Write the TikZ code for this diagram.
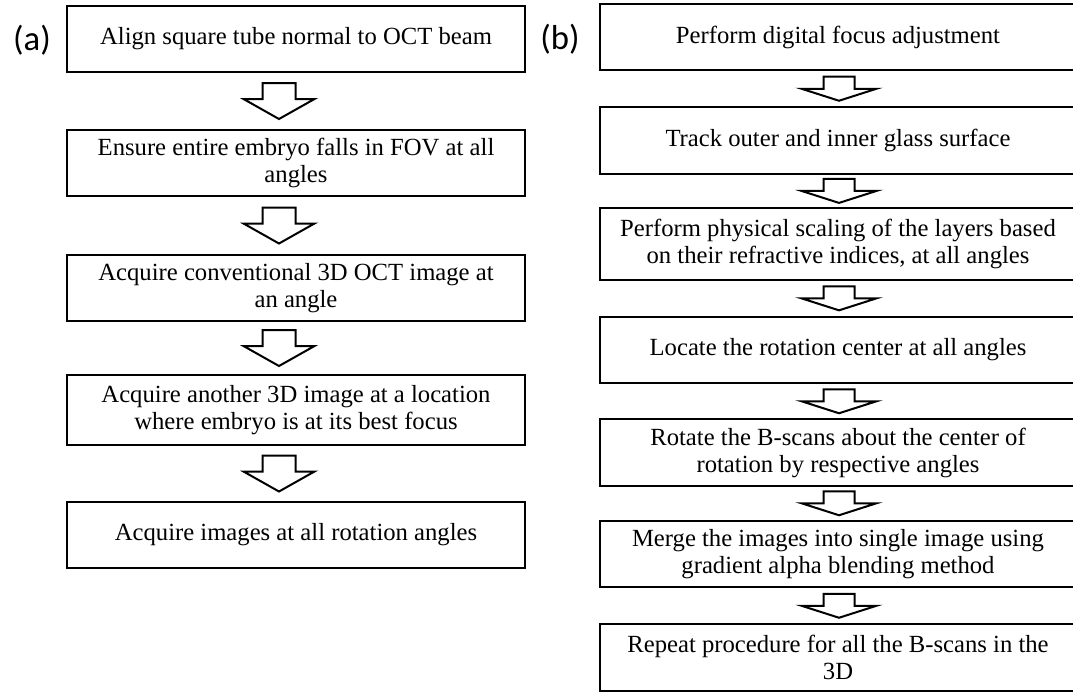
\documentclass[tikz,border=0pt]{standalone}
\usepackage{fontspec}
\setmainfont{Liberation Serif}
\newfontfamily\panelfont{Carlito}
\usetikzlibrary{calc}

\begin{document}
\begin{tikzpicture}[x=0.75pt,y=-0.75pt]
        \tikzstyle{step box}=[rectangle,draw=black,line width=1.5pt,align=center,inner sep=0pt,
                              font=\fontsize{18.5}{20.25}\selectfont]
        \tikzstyle{left box}=[step box,minimum width=343.5pt,minimum height=50pt]
        \tikzstyle{right box}=[step box,minimum width=357pt,minimum height=50pt]
        \tikzstyle{block arrow}=[draw=black,fill=white,line width=1.5pt,line join=miter]
        \tikzstyle{panel}=[font=\panelfont\fontsize{26}{30}\selectfont]
        \useasboundingbox (0,0) rectangle (1073,692);
       % acquisition steps
       \begin{scope}
         \node [panel] (la) at (32,40) {(a)};
         \node [left box] (a1) at (296,39) {Align square tube normal to OCT beam};
         \node [left box] (a2) at (296,163) {Ensure entire embryo falls in FOV at all\\angles};
         \node [left box] (a3) at (296,288) {Acquire conventional 3D OCT image at\\an angle};
         \node [left box,minimum height=53pt] (a4) at (296,410) {Acquire another 3D image at a location\\where embryo is at its best focus};
         \node [left box] (a5) at (296,535) {Acquire images at all rotation angles};
         \foreach \cur/\nxt in {a1/a2,a2/a3,a3/a4,a4/a5}
           \draw [block arrow,shift={($(\cur.south)!0.5!(\nxt.north)+(-17,0)$)}]
             (-16.5,-18) -- (16.5,-18) -- (16.5,-2) -- (35.5,-2) -- (0,18)
             -- (-35.5,-2) -- (-16.5,-2) -- cycle;
        \end{scope}
       % processing steps
       \begin{scope}
         \node [panel] (lb) at (560,39) {(b)};
         \node [right box] (b1) at (838,37) {Perform digital focus adjustment};
         \node [right box] (b2) at (838,140.5) {Track outer and inner glass surface};
         \node [right box,minimum height=54pt] (b3) at (838,244) {Perform physical scaling of the layers based\\on their refractive indices, at all angles};
         \node [right box] (b4) at (838,350) {Locate the rotation center at all angles};
         \node [right box] (b5) at (838,452.5) {Rotate the B-scans about the center of\\rotation by respective angles};
         \node [right box] (b6) at (838,554) {Merge the images into single image using\\gradient alpha blending method};
         \node [right box] (b7) at (838,657.5) {Repeat procedure for all the B-scans in the\\3D};
         \foreach \cur/\nxt in {b1/b2,b2/b3,b3/b4,b4/b5,b5/b6,b6/b7}
           \draw [block arrow,shift={($(\cur.south)!0.5!(\nxt.north)+(1,0)$)}]
             (-15.5,-12) -- (15.5,-12) -- (15.5,0) -- (37.5,0) -- (0,12)
             -- (-37.5,0) -- (-15.5,0) -- cycle;
        \end{scope}
      \end{tikzpicture}
\end{document}
